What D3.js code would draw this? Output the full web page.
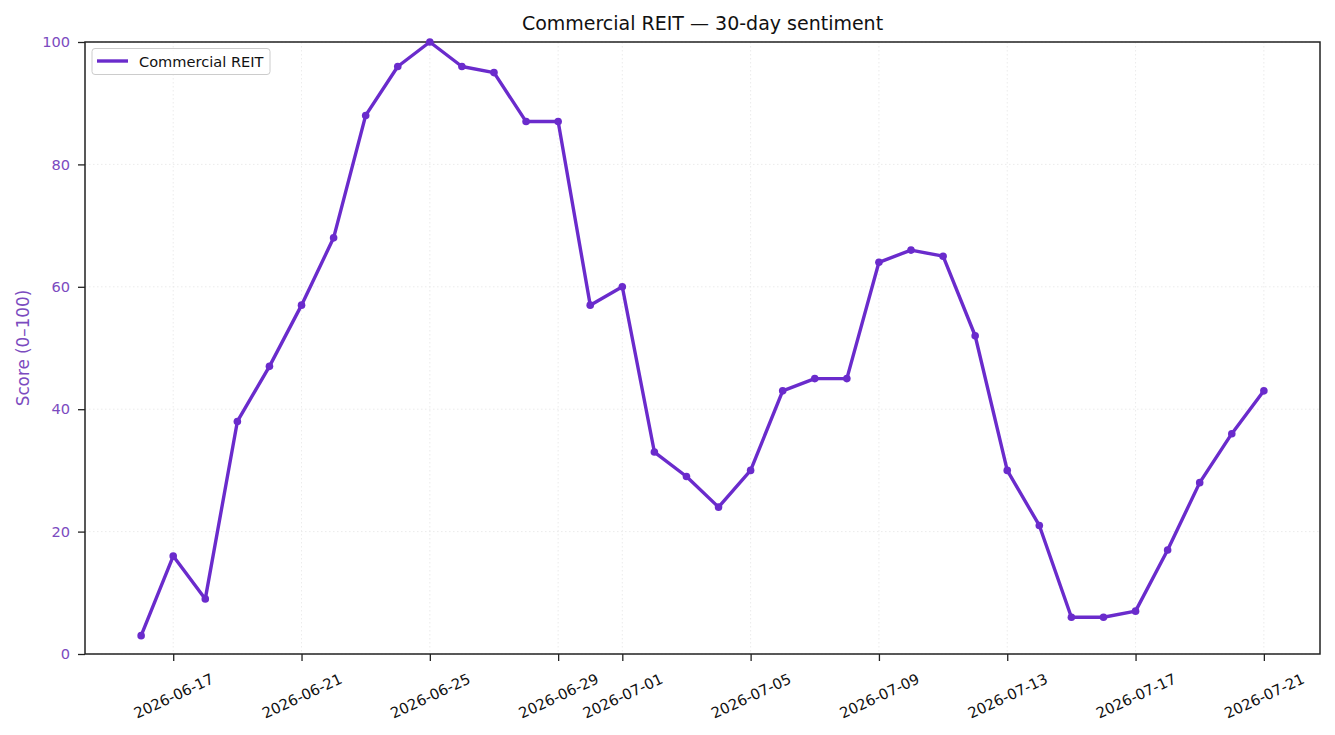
<!DOCTYPE html>
<html><head><meta charset="utf-8">
<script src="https://cdn.jsdelivr.net/npm/d3@7"></script>
<style>body{margin:0;background:#fff}svg{display:block;font-family:"DejaVu Sans",sans-serif}svg text{font-family:"DejaVu Sans",sans-serif}</style>
</head><body>
<svg id="c" width="1335" height="735"></svg>
<script>
const dates = ["2026-06-16","2026-06-17","2026-06-18","2026-06-19","2026-06-20","2026-06-21","2026-06-22","2026-06-23","2026-06-24","2026-06-25","2026-06-26","2026-06-27","2026-06-28","2026-06-29","2026-06-30","2026-07-01","2026-07-02","2026-07-03","2026-07-04","2026-07-05","2026-07-06","2026-07-07","2026-07-08","2026-07-09","2026-07-10","2026-07-11","2026-07-12","2026-07-13","2026-07-14","2026-07-15","2026-07-16","2026-07-17","2026-07-18","2026-07-19","2026-07-20","2026-07-21"];
const scores = [3,16,9,38,47,57,68,88,96,100,96,95,87,87,57,60,33,29,24,30,43,45,45,64,66,65,52,30,21,6,6,7,17,28,36,43];
const xTickLabels = ["2026-06-17","2026-06-21","2026-06-25","2026-06-29","2026-07-01","2026-07-05","2026-07-09","2026-07-13","2026-07-17","2026-07-21"];
const yTicks = [0,20,40,60,80,100];
const seriesName = "Commercial REIT";
const title = "Commercial REIT \u2014 30-day sentiment";
const yLabel = "Score (0\u2013100)";

const lineColor = "#6a2bcc", tickColor = "#7b4bbf";
const FONT = "'DejaVu Sans', sans-serif";
const parse = d3.utcParse("%Y-%m-%d");
const svg = d3.select("#c");
const L = 85, R = 1320, T = 42, B = 654;
const t0 = parse(dates[0]), t1 = parse(dates[dates.length-1]);
const pad = (t1 - t0) * 0.05;
const x = d3.scaleUtc().domain([new Date(+t0 - pad), new Date(+t1 + pad)]).range([L, R]);
const y = d3.scaleLinear().domain([0, 100]).range([B, T]);

// grid
const g = svg.append("g");
g.selectAll("line.gx").data(xTickLabels).join("line")
  .attr("x1", d => x(parse(d))).attr("x2", d => x(parse(d))).attr("y1", T).attr("y2", B)
  .attr("stroke", "#e6e6e6").attr("stroke-width", 0.8).attr("stroke-dasharray", "1.5,2.5");
g.selectAll("line.gy").data(yTicks).join("line")
  .attr("x1", L).attr("x2", R).attr("y1", d => y(d)).attr("y2", d => y(d))
  .attr("stroke", "#e6e6e6").attr("stroke-width", 0.8).attr("stroke-dasharray", "1.5,2.5");

// axes
const xAxis = svg.append("g").attr("transform", `translate(0,${B})`)
  .call(d3.axisBottom(x).tickValues(xTickLabels.map(parse)).tickFormat(d3.utcFormat("%Y-%m-%d")).tickSize(7).tickPadding(4))
  .attr("font-family", FONT);
xAxis.select(".domain").remove();
xAxis.selectAll(".tick line").attr("stroke", "#222").attr("stroke-width", 1.3);
xAxis.selectAll(".tick text").attr("font-size", 14.8).attr("fill", "#111")
  .attr("text-anchor", "middle").attr("dy", "0.35em").attr("y", 0)
  .attr("transform", "translate(0,42) rotate(-25)");

const yAxis = svg.append("g").attr("transform", `translate(${L},0)`)
  .call(d3.axisLeft(y).tickValues(yTicks).tickSize(7).tickPadding(8))
  .attr("font-family", FONT);
yAxis.select(".domain").remove();
yAxis.selectAll(".tick line").attr("stroke", "#222").attr("stroke-width", 1.3);
yAxis.selectAll(".tick text").attr("font-size", 14.6).attr("fill", tickColor);

// frame
svg.append("rect").attr("x", L).attr("y", T).attr("width", R - L).attr("height", B - T)
  .attr("fill", "none").attr("stroke", "#222").attr("stroke-width", 1.5);

// line
const pts = dates.map((d, i) => ({ t: parse(d), v: scores[i] }));
svg.append("path").datum(pts)
  .attr("d", d3.line().x(d => x(d.t)).y(d => y(d.v)))
  .attr("fill", "none").attr("stroke", lineColor).attr("stroke-width", 3.4).attr("stroke-linejoin", "round");
svg.append("g").selectAll("circle").data(pts).join("circle")
  .attr("cx", d => x(d.t)).attr("cy", d => y(d.v)).attr("r", 3.8).attr("fill", lineColor);

// title
svg.append("text").attr("x", (L + R) / 2).attr("y", 30).attr("text-anchor", "middle")
  .attr("font-size", 19).attr("fill", "#111").text(title);

// y label
svg.append("text").attr("transform", `translate(29,${(T + B) / 2}) rotate(-90)`)
  .attr("text-anchor", "middle").attr("font-size", 16.8).attr("fill", tickColor).text(yLabel);

// legend
const lg = svg.append("g");
lg.append("rect").attr("x", 92).attr("y", 48.5).attr("width", 178).attr("height", 26).attr("rx", 3)
  .attr("fill", "#fff").attr("fill-opacity", 0.8).attr("stroke", "#cccccc");
lg.append("line").attr("x1", 97).attr("x2", 128).attr("y1", 61).attr("y2", 61)
  .attr("stroke", lineColor).attr("stroke-width", 3.4);
lg.append("text").attr("x", 139).attr("y", 66.5).attr("font-size", 14.6).attr("fill", "#111").text(seriesName);
</script>
</body></html>
